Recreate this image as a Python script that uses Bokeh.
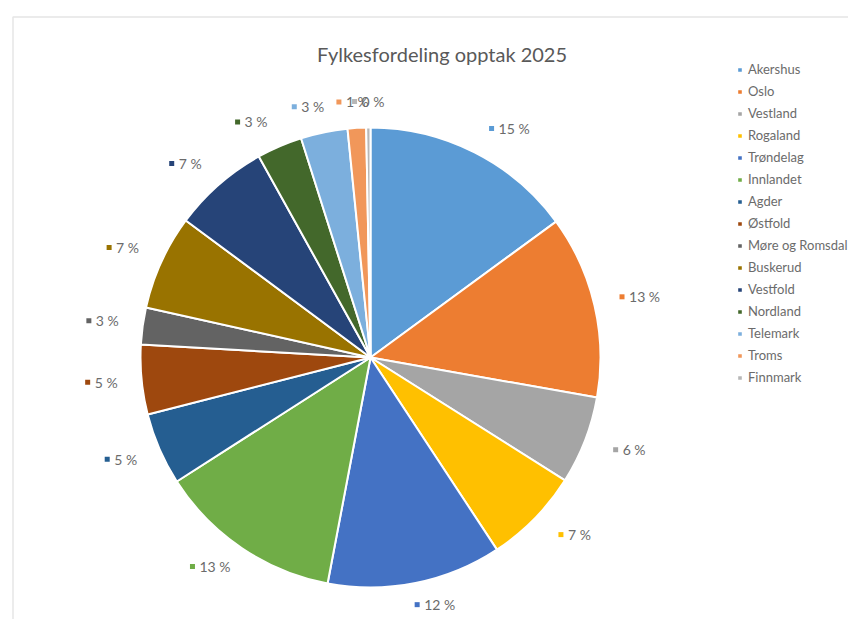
import math
from bokeh.plotting import figure
from bokeh.models import (ColumnDataSource, Range1d, Legend, LegendItem,
                          Label, BoxAnnotation)
from bokeh.core.properties import value
from bokeh.embed import file_html
from bokeh.resources import INLINE

# ---- data ----
fylker = ["Akershus", "Oslo", "Vestland", "Rogaland", "Trøndelag", "Innlandet",
          "Agder", "Østfold", "Møre og Romsdal", "Buskerud", "Vestfold",
          "Nordland", "Telemark", "Troms", "Finnmark"]
andel = [15.0, 12.9, 6.2, 6.8, 12.3, 13.0, 5.1, 4.9, 2.6, 6.7, 6.8, 3.2, 3.3, 1.3, 0.3]
farger = ["#5B9BD5", "#ED7D31", "#A5A5A5", "#FFC000", "#4472C4", "#70AD47",
          "#255E91", "#9E480E", "#636363", "#997300", "#264478", "#43682B",
          "#7CAFDD", "#F1975A", "#B7B7B7"]
tittel = "Fylkesfordeling opptak 2025"

# ---- layout (data units == screen pixels, y flipped) ----
W, H = 848, 619
PAGE_H = 627
CX, CY = 370, PAGE_H - 357
R = 230
FONT = "Lato"
TXT = "#6b6b6b"

total = sum(andel)
starts, ends, mids = [], [], []
cum = 0.0
for v in andel:
    a0 = cum / total * 2 * math.pi
    cum += v
    a1 = cum / total * 2 * math.pi
    starts.append(math.pi / 2 - a0)
    ends.append(math.pi / 2 - a1)
    mids.append((a0 + a1) / 2)

labels = [f"{round(v / total * 100)} %" for v in andel]

# label positions (outside end)
lx, ly, mx, my = [], [], [], []
D = R + 20
for th, t in zip(mids, labels):
    ux, uy = math.sin(th), math.cos(th)
    ox = (25 if ux > 0 else 21) * min(1.0, 3 * abs(ux)) * (1 if ux >= 0 else -1)
    oy = (6 if uy >= 0 else -2) * min(1.0, 3 * abs(uy))
    gx = CX + D * ux + ox
    gy = CY + D * uy + oy
    ndig = len(t) - 2
    tw = 8 * ndig + 14
    gw = 10 + tw
    left = gx - gw / 2
    lx.append(left + 10)
    ly.append(gy)
    mx.append(left + 3)
    my.append(gy)

src = ColumnDataSource(dict(name=fylker, val=andel, color=farger,
                            start=starts, end=ends, lx=lx, ly=ly, mx=mx, my=my,
                            text=labels))

p = figure(width=W, height=H, output_backend="svg", toolbar_location=None,
           x_range=Range1d(0, W), y_range=Range1d(PAGE_H - H, PAGE_H),
           x_axis_type=None, y_axis_type=None, min_border=0,
           outline_line_color=None, background_fill_color="white")
p.xgrid.visible = False
p.ygrid.visible = False

# chart frame border
p.add_layout(BoxAnnotation(left=12.5, right=1200, top=PAGE_H - 16.5, bottom=-200,
                           fill_alpha=0, line_color="#a8a8a8", line_width=1.5))

wedges = p.wedge(x=CX, y=CY, radius=R, start_angle="start", end_angle="end",
                 direction="clock", fill_color="color", line_color="white",
                 line_width=2, source=src)

p.scatter(x="mx", y="my", marker="square", size=5, fill_color="color",
          line_color=None, source=src)
p.text(x="lx", y="ly", text="text", text_font=value(FONT), text_font_size="14px",
       text_color=TXT, text_baseline="middle", text_align="left", source=src)

p.add_layout(Label(x=441.5, y=PAGE_H - 53, text=tittel, text_font=FONT,
                   text_font_size="20px", text_color="#595959",
                   text_align="center", text_baseline="alphabetic"))

items = [LegendItem(label=n, renderers=[wedges], index=i) for i, n in enumerate(fylker)]
legend = Legend(items=items, location=(736, 232), orientation="vertical",
                glyph_width=7, glyph_height=7, label_height=20, spacing=2,
                label_standoff=5, padding=0, margin=0, border_line_color=None,
                background_fill_alpha=0, label_text_font=FONT,
                label_text_font_size="13px", label_text_color=TXT)
p.add_layout(legend, "center")

open("out.html", "w").write(file_html(p, INLINE))
